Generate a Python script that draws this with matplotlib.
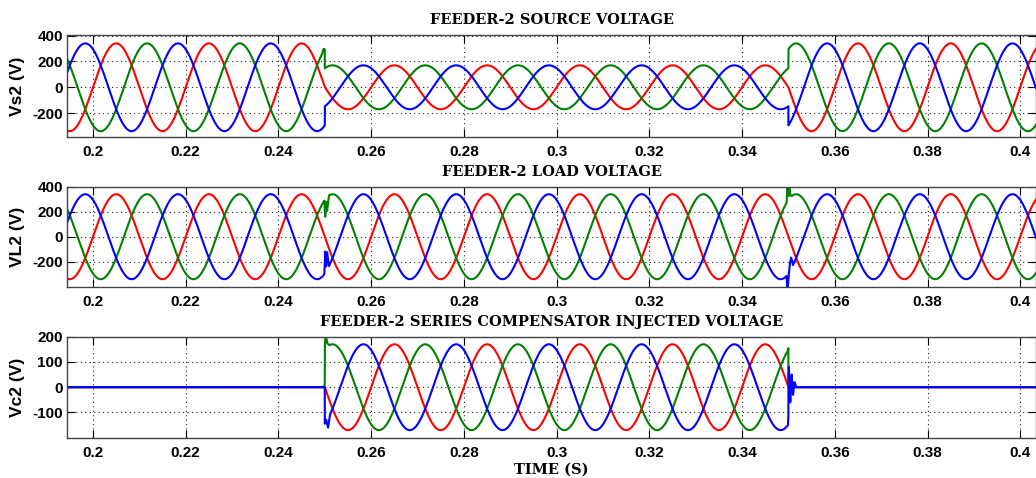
import numpy as np
import matplotlib
matplotlib.use("Agg")
from matplotlib import pyplot as plt

plt.rcParams['axes.unicode_minus'] = False

# --- supply / sag parameters ---
f_line = 50.0                      # Hz
t_lim = (0.1944, 0.4034)
t_breaks = [0.25, 0.35]            # sag starts / ends
phase_deg = [0, -120, 120]         # phase a, b, c
colors = ['#ff0000', '#008000', '#0000ff']

vs_peak = [340, 170, 340]          # source peak: before / during / after sag
vl_peak = [340, 340, 340]          # load peak
vc_peak = [0, 170, 0]              # injected peak

# switching transients (time, added volts) for each phase, a/b/c
vs_trans = [
    ([], []),
    ([0.2494, 0.2497, 0.2500], [0, 20, 0]),
    ([], []),
]
vl_trans = [
    ([], []),
    ([0.2499, 0.2501, 0.2503, 0.2505, 0.2509, 0.3496, 0.3498, 0.3500, 0.3502, 0.3504, 0.3507],
     [0, -140, -30, -110, 0, 0, 120, 30, 110, 20, 0]),
    ([0.2499, 0.2501, 0.2503, 0.2505, 0.2509, 0.3496, 0.3498, 0.3500, 0.3503, 0.3506, 0.3510],
     [0, 170, 40, 140, 0, 0, -130, -40, 60, 90, 0]),
]
vc_trans = [
    ([0.3499, 0.3501, 0.3503, 0.3506], [0, 15, -10, 0]),
    ([0.2499, 0.2502, 0.2505, 0.2510, 0.3499, 0.3502, 0.3505, 0.3509], [0, 60, 15, 0, 0, 25, -15, 0]),
    ([0.2499, 0.2503, 0.2507, 0.2511, 0.3499, 0.3501, 0.3504, 0.3507, 0.3510, 0.3513, 0.3517],
     [0, 10, -35, 0, 0, 80, -60, 50, -30, 20, 0]),
]

titles = ["FEEDER-2 SOURCE VOLTAGE", "FEEDER-2 LOAD VOLTAGE",
          "FEEDER-2 SERIES COMPENSATOR INJECTED VOLTAGE"]
ylabels = ["Vs2 (V)", "VL2 (V)", "Vc2 (V)"]
ylims = [(-385, 405), (-400, 400), (-200, 200)]
yticks = [[-200, 0, 200, 400], [-200, 0, 200, 400], [-100, 0, 100, 200]]
xticks = [0.2, 0.22, 0.24, 0.26, 0.28, 0.3, 0.32, 0.34, 0.36, 0.38, 0.4]

t = np.arange(t_lim[0], t_lim[1], 1e-5)
seg = np.searchsorted(t_breaks, t, side='right')


def phase_waves(peaks, trans):
    amp = np.asarray(peaks, dtype=float)[seg]
    waves = []
    for k in range(3):
        w = amp * np.sin(2 * np.pi * f_line * t + np.deg2rad(phase_deg[k]))
        tt, vv = trans[k]
        if len(tt):
            w = w + np.interp(t, tt, vv, left=0, right=0)
        waves.append(w)
    return waves


signals = [phase_waves(vs_peak, vs_trans),
           phase_waves(vl_peak, vl_trans),
           phase_waves(vc_peak, vc_trans)]

fig = plt.figure(figsize=(10.36, 4.78), dpi=100, facecolor="w")
boxes = [[0.0647, 0.7134, 0.9353, 0.2134],
         [0.0647, 0.4002, 0.9353, 0.2092],
         [0.0647, 0.0843, 0.9353, 0.2113]]

for i in range(3):
    ax = fig.add_axes(boxes[i])
    for k in range(3):
        ax.plot(t, signals[i][k], color=colors[k], lw=1.5)
    ax.set_xlim(t_lim)
    ax.set_ylim(ylims[i])
    ax.set_xticks(xticks)
    ax.set_xticklabels(["%g" % x for x in xticks])
    ax.set_yticks(yticks[i])
    ax.grid(True, color='#222222', ls=(0, (1, 3)), lw=0.8)
    ax.tick_params(direction='in', length=6, top=True, right=True, labelsize=11)
    ax.tick_params(axis='x', pad=6)
    ax.tick_params(axis='y', pad=3)
    for lab in ax.get_xticklabels() + ax.get_yticklabels():
        lab.set_family('Liberation Sans')
        lab.set_weight('bold')
    for s in ax.spines.values():
        s.set_color('#444444')
        s.set_linewidth(1.0)
    ax.set_title(titles[i], family='DejaVu Serif', weight='bold', fontsize=10.5, pad=8)
    ax.set_ylabel(ylabels[i], family='Liberation Sans', weight='bold', fontsize=12.5, labelpad=5)

ax.set_xlabel("TIME (S)", family='DejaVu Serif', weight='bold', fontsize=10.5, labelpad=2)

plt.savefig("out.png", dpi=100)
